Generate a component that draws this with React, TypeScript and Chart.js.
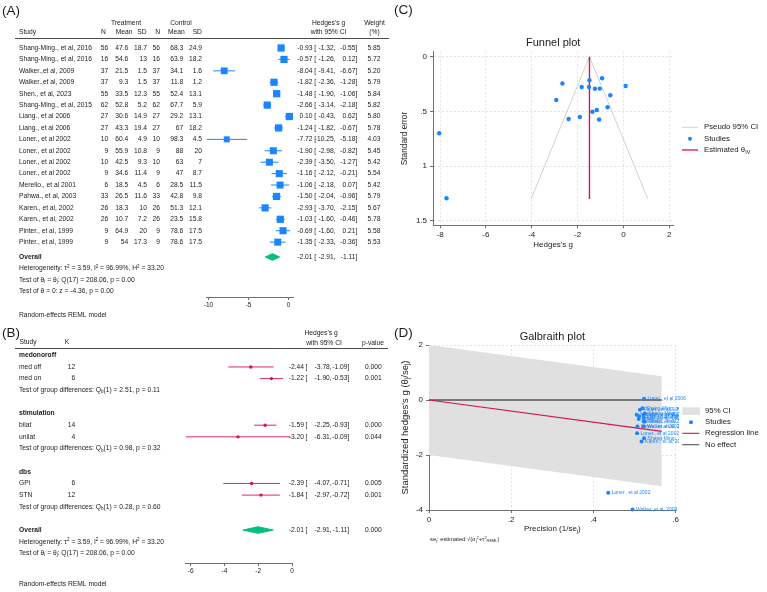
import React, { useEffect, useRef } from "react";
import { Chart, registerables } from "chart.js";

Chart.register(...registerables);

// ---------- styling ----------
const FONT = "'Liberation Sans', Arial, Helvetica, sans-serif";
const INK = "#1b1b1b";
const BLUE = "#1a85ff";
const RED = "#d41159";
const GREEN = "#00bf7f";
const AXIS = "#6f6f6f";
const GRID = "#e3e3e3";
const FUNNEL_GREY = "#d0d0d0";
const BAND = "#e0e0e0";
const NULL_LINE = "#555555";
const TABLE_FS = 6.7;

// ---------- individual studies ----------
const studyNames = [
  "Shang-Ming., et al, 2016",
  "Shang-Ming., et al, 2016",
  "Walker.,et al, 2009",
  "Walker.,et al, 2009",
  "Shen., et al, 2023",
  "Shang-Ming., et al, 2015",
  "Liang., et al 2006",
  "Liang., et al 2006",
  "Loner., et al 2002",
  "Loner., et al 2002",
  "Loner., et al 2002",
  "Loner., et al 2002",
  "Merello., et al 2001",
  "Pahwa., et al, 2003",
  "Karen., et al, 2002",
  "Karen., et al, 2002",
  "Pinter., et al, 1999",
  "Pinter., et al, 1999",
];
const treatN = [56, 16, 37, 37, 55, 62, 27, 27, 10, 9, 10, 9, 6, 33, 26, 26, 9, 9];
const treatMean = [47.6, 54.6, 21.5, 9.3, 33.5, 52.8, 30.6, 43.3, 60.4, 55.9, 42.5, 34.6, 18.5, 26.5, 18.3, 10.7, 64.9, 54];
const treatSD = [18.7, 13, 1.5, 1.5, 12.3, 5.2, 14.9, 19.4, 4.9, 10.8, 9.3, 11.4, 4.5, 11.6, 10, 7.2, 20, 17.3];
const ctrlN = [56, 16, 37, 37, 55, 62, 27, 27, 10, 9, 10, 9, 6, 33, 26, 26, 9, 9];
const ctrlMean = [68.3, 63.9, 34.1, 11.8, 52.4, 67.7, 29.2, 67, 98.3, 88, 63, 47, 28.5, 42.8, 51.3, 23.5, 78.6, 78.6];
const ctrlSD = [24.9, 18.2, 1.6, 1.2, 13.1, 5.9, 13.1, 18.2, 4.5, 20, 7, 8.7, 11.5, 9.8, 12.1, 15.8, 17.5, 17.5];
const hedgesG = [-0.93, -0.57, -8.04, -1.82, -1.48, -2.66, 0.1, -1.24, -7.72, -1.9, -2.39, -1.16, -1.06, -1.5, -2.93, -1.03, -0.69, -1.35];
const ciLow = [-1.32, -1.26, -9.41, -2.36, -1.9, -3.14, -0.43, -1.82, -10.25, -2.98, -3.5, -2.12, -2.18, -2.04, -3.7, -1.6, -1.6, -2.33];
const ciHigh = [-0.55, 0.12, -6.67, -1.28, -1.06, -2.18, 0.62, -0.67, -5.18, -0.82, -1.27, -0.21, 0.07, -0.96, -2.15, -0.46, 0.21, -0.36];
const weights = [5.85, 5.72, 5.2, 5.79, 5.84, 5.82, 5.8, 5.78, 4.03, 5.45, 5.42, 5.54, 5.42, 5.79, 5.67, 5.78, 5.58, 5.53];

// pooled random-effects estimate
const overallEst = -2.01;
const overallLow = -2.91;
const overallHigh = -1.11;

// ---------- subgroup analysis ----------
const groupNames = ["medonoroff", "stimulation", "dbs"];
const groupQb = ["2.51", "0.98", "0.28"];
const groupQp = ["0.11", "0.32", "0.60"];
const subLabels = ["med off", "med on", "bilat", "unilat", "GPi", "STN"];
const subK = [12, 6, 14, 4, 6, 12];
const subEst = [-2.44, -1.22, -1.59, -3.2, -2.39, -1.84];
const subLow = [-3.78, -1.9, -2.25, -6.31, -4.07, -2.97];
const subHigh = [-1.09, -0.53, -0.93, -0.09, -0.71, -0.72];
const subP = ["0.000", "0.001", "0.000", "0.044", "0.005", "0.001"];

// ---------- funnel plot ----------
const funnelSE = [0.196, 0.352, 0.699, 0.276, 0.214, 0.245, 0.268, 0.293, 1.293, 0.551, 0.569, 0.487, 0.574, 0.276, 0.395, 0.291, 0.462, 0.503];
const funnelLimitX = [-4.03, -1.48, 1.07];
const funnelLimitSE = [1.3, 0, 1.3];
const thetaIV = -1.48;
const funnelMaxSE = 1.3;

// ---------- Galbraith plot ----------
const galbPrecision = [0.525, 0.519, 0.495, 0.522, 0.525, 0.523, 0.523, 0.522, 0.436, 0.507, 0.506, 0.511, 0.505, 0.522, 0.517, 0.522, 0.513, 0.51];
const galbZ = [-0.49, -0.3, -3.98, -0.95, -0.78, -1.39, 0.05, -0.65, -3.37, -0.96, -1.21, -0.59, -0.54, -0.78, -1.51, -0.54, -0.35, -0.69];
const galbLineX = [0, 0.566];
const galbUpper = [2, 0.86];
const galbLower = [-2, -3.14];
const galbRegression = [0, -1.14];
const galbNoEffect = [0, 0];

// ---------- layout (pixels) ----------
const A_W = 393, A_H = 322;
const A_ROW0 = 48, A_ROWH = 11.42, A_TOP = 40, A_BOTTOM = 297;
const A_OVERALL = 18.3;
const A_XMIN = -10.25, A_XMAX = 0.62, A_LEFT = 206.5, A_RIGHT = 293.5;

const B_W = 393, B_H = 270;
const B_ROW0 = 33.3, B_ROWH = 11.65, B_TOP = 26, B_BOTTOM = 241;
const B_XMIN = -6.31, B_XMAX = 0, B_LEFT = 185.5, B_RIGHT = 292;
const B_GROUP_ROW = [0, 5, 10];
const B_SUB_ROW = [1, 2, 6, 7, 11, 12];
const B_TEST_ROW = [3, 8, 13];
const B_OVERALL = 15;

const DIAMOND_HALF = 3.3;

type Seg = { t: string; sub?: boolean; sup?: boolean };

function setFont(ctx: CanvasRenderingContext2D, size: number, bold = false) {
  ctx.font = `${bold ? "bold " : ""}${size}px ${FONT}`;
}

function text(ctx: CanvasRenderingContext2D, s: string, x: number, y: number, size: number, align: CanvasTextAlign = "left", opts: { bold?: boolean; color?: string } = {}) {
  setFont(ctx, size, opts.bold);
  ctx.fillStyle = opts.color ?? INK;
  ctx.textAlign = align;
  ctx.textBaseline = "middle";
  ctx.fillText(s, x, y);
}

function rich(ctx: CanvasRenderingContext2D, segs: Seg[], x: number, y: number, size: number, align: "left" | "center" | "right" = "left", color = INK) {
  const small = size * 0.68;
  const widthOf = (s: Seg) => {
    setFont(ctx, s.sub || s.sup ? small : size);
    return ctx.measureText(s.t).width;
  };
  const total = segs.reduce((w, s) => w + widthOf(s), 0);
  let cx = align === "center" ? x - total / 2 : align === "right" ? x - total : x;
  ctx.fillStyle = color;
  ctx.textAlign = "left";
  ctx.textBaseline = "middle";
  for (const s of segs) {
    const w = widthOf(s);
    const dy = s.sub ? size * 0.28 : s.sup ? -size * 0.32 : 0;
    ctx.fillText(s.t, cx, y + dy);
    cx += w;
  }
}

function richRotated(ctx: CanvasRenderingContext2D, segs: Seg[], x: number, y: number, size: number) {
  ctx.save();
  ctx.translate(x, y);
  ctx.rotate(-Math.PI / 2);
  rich(ctx, segs, 0, 0, size, "center");
  ctx.restore();
}

const heteroSegs: Seg[] = [
  { t: "Heterogeneity: τ" }, { t: "2", sup: true }, { t: " = 3.59, I" }, { t: "2", sup: true },
  { t: " = 96.99%, H" }, { t: "2", sup: true }, { t: " = 33.20" },
];
const homogSegs: Seg[] = [
  { t: "Test of θ" }, { t: "i", sub: true }, { t: " = θ" }, { t: "j", sub: true }, { t: ": Q(17) = 208.06, p = 0.00" },
];

const stripZero = (v: number) => String(Math.round(v * 100) / 100).replace(/^(-?)0\./, "$1.");

function xAxis(min: number, max: number, ticks: number[], height: number, size: number, grid: boolean) {
  return {
    type: "linear",
    position: "bottom",
    min,
    max,
    afterBuildTicks: (s: any) => {
      s.ticks = ticks.map((v) => ({ value: v }));
    },
    afterFit: (s: any) => {
      s.height = height;
    },
    ticks: { autoSkip: false, maxRotation: 0, padding: 1.5, color: INK, font: { family: FONT, size }, callback: (v: number) => stripZero(v) },
    grid: { display: true, drawOnChartArea: grid, drawTicks: true, tickLength: 3, color: GRID, tickColor: AXIS, lineWidth: 1, tickBorderDash: [] },
    border: { display: true, color: AXIS, width: 1, dash: grid ? [2, 2] : [] },
  };
}

function yAxis(min: number, max: number, ticks: number[], width: number, size: number, reverse: boolean) {
  return {
    type: "linear",
    position: "left",
    min,
    max,
    reverse,
    afterBuildTicks: (s: any) => {
      s.ticks = ticks.map((v) => ({ value: v }));
    },
    afterFit: (s: any) => {
      s.width = width;
    },
    ticks: { autoSkip: false, padding: 3, color: INK, font: { family: FONT, size }, callback: (v: number) => stripZero(v) },
    grid: { display: true, drawOnChartArea: true, drawTicks: true, tickLength: 3, color: GRID, tickColor: AXIS, lineWidth: 1, tickBorderDash: [] },
    border: { display: true, color: AXIS, width: 1, dash: [2, 2] },
  };
}

const baseOptions = {
  responsive: false,
  animation: false as const,
  events: [] as any[],
  plugins: { legend: { display: false }, tooltip: { enabled: false }, title: { display: false } },
};

// ---------- panel A: forest plot of studies ----------
const forestATable = {
  id: "forestATable",
  afterDraw(chart: any) {
    const ctx: CanvasRenderingContext2D = chart.ctx;
    const rowY = (r: number) => chart.scales.y.getPixelForValue(r);
    const fs = TABLE_FS;
    ctx.save();
    text(ctx, "(A)", 2, 11, 13.5);
    text(ctx, "Treatment", 126, 22.7, fs, "center");
    text(ctx, "Control", 181, 22.7, fs, "center");
    const hy = 32.3;
    text(ctx, "Study", 19, hy, fs);
    const heads: [string, number][] = [["N", 103.5], ["Mean", 124], ["SD", 142], ["N", 157.7], ["Mean", 176.3], ["SD", 197.3]];
    heads.forEach(([s, x]) => text(ctx, s, x, hy, fs, "center"));
    text(ctx, "Hedges's g", 328.5, 22.7, fs, "center");
    text(ctx, "with 95% CI", 328.5, hy, fs, "center");
    text(ctx, "Weight", 374.5, 22.7, fs, "center");
    text(ctx, "(%)", 374.5, hy, fs, "center");
    ctx.strokeStyle = "#4a4a4a";
    ctx.lineWidth = 1;
    ctx.beginPath();
    ctx.moveTo(15, 38.5);
    ctx.lineTo(389, 38.5);
    ctx.stroke();

    const ciText = (y: number, est: number, lo: number, hi: number) => {
      text(ctx, est.toFixed(2), 312.5, y, fs, "right");
      text(ctx, "[", 314.3, y, fs);
      text(ctx, lo.toFixed(2) + ",", 335.5, y, fs, "right");
      text(ctx, hi.toFixed(2) + "]", 357.3, y, fs, "right");
    };
    studyNames.forEach((name, i) => {
      const y = rowY(i);
      text(ctx, name, 19, y, fs);
      text(ctx, String(treatN[i]), 108.3, y, fs, "right");
      text(ctx, String(treatMean[i]), 128.3, y, fs, "right");
      text(ctx, String(treatSD[i]), 147, y, fs, "right");
      text(ctx, String(ctrlN[i]), 160, y, fs, "right");
      text(ctx, String(ctrlMean[i]), 183.3, y, fs, "right");
      text(ctx, String(ctrlSD[i]), 202, y, fs, "right");
      ciText(y, hedgesG[i], ciLow[i], ciHigh[i]);
      text(ctx, weights[i].toFixed(2), 380.5, y, fs, "right");
    });
    const yo = rowY(A_OVERALL);
    text(ctx, "Overall", 19, yo, fs, "left", { bold: true });
    ciText(yo, overallEst, overallLow, overallHigh);
    rich(ctx, heteroSegs, 19, rowY(A_OVERALL + 1), fs);
    rich(ctx, homogSegs, 19, rowY(A_OVERALL + 2), fs);
    text(ctx, "Test of θ = 0: z = -4.36, p = 0.00", 19, rowY(A_OVERALL + 3), fs);
    text(ctx, "Random-effects REML model", 19, 315, fs);
    ctx.restore();
  },
};

function forestAConfig(): any {
  const dh = DIAMOND_HALF / A_ROWH;
  const ciSets = hedgesG.map((_, i) => ({
    data: [{ x: ciLow[i], y: i }, { x: ciHigh[i], y: i }],
    borderColor: BLUE,
    borderWidth: 1,
    pointRadius: 0,
    fill: false,
    order: 2,
  }));
  return {
    type: "line",
    data: {
      datasets: [
        {
          data: hedgesG.map((g, i) => ({ x: g, y: i })),
          showLine: false,
          pointStyle: "rect",
          pointRadius: weights.map((w) => 2.12 * Math.sqrt(w)),
          pointBackgroundColor: BLUE,
          pointBorderWidth: 0,
          clip: false,
          order: 0,
        },
        {
          data: [
            { x: overallLow, y: A_OVERALL },
            { x: overallEst, y: A_OVERALL - dh },
            { x: overallHigh, y: A_OVERALL },
            { x: overallEst, y: A_OVERALL + dh },
            { x: overallLow, y: A_OVERALL },
          ],
          borderColor: GREEN,
          backgroundColor: GREEN,
          borderWidth: 1,
          pointRadius: 0,
          fill: "shape",
          order: 1,
        },
        ...ciSets,
      ],
    },
    options: {
      ...baseOptions,
      layout: { padding: { left: A_LEFT, right: A_W - A_RIGHT, top: A_TOP, bottom: A_H - A_BOTTOM - 20 } },
      scales: {
        x: xAxis(A_XMIN, A_XMAX, [-10, -5, 0], 20, 6.5, false),
        y: { type: "linear", display: false, reverse: true, min: (A_TOP - A_ROW0) / A_ROWH, max: (A_BOTTOM - A_ROW0) / A_ROWH },
      },
    },
    plugins: [forestATable],
  };
}

// ---------- panel B: subgroup forest plot ----------
const forestBTable = {
  id: "forestBTable",
  afterDraw(chart: any) {
    const ctx: CanvasRenderingContext2D = chart.ctx;
    const rowY = (r: number) => chart.scales.y.getPixelForValue(r);
    const fs = TABLE_FS;
    ctx.save();
    text(ctx, "(B)", 2, 11, 13.5);
    text(ctx, "Study", 19.5, 20, fs);
    text(ctx, "K", 67, 20, fs, "center");
    text(ctx, "Hedges's g", 321, 10.7, fs, "center");
    text(ctx, "with 95% CI", 324, 21.3, fs, "center");
    text(ctx, "p-value", 373, 21.3, fs, "center");
    ctx.strokeStyle = "#4a4a4a";
    ctx.lineWidth = 1;
    ctx.beginPath();
    ctx.moveTo(15, 26.5);
    ctx.lineTo(388, 26.5);
    ctx.stroke();

    const ciText = (y: number, est: number, lo: number, hi: number, p: string) => {
      text(ctx, est.toFixed(2), 304, y, fs, "right");
      text(ctx, "[", 305.5, y, fs);
      text(ctx, lo.toFixed(2) + ",", 331.7, y, fs, "right");
      text(ctx, hi.toFixed(2) + "]", 349.3, y, fs, "right");
      text(ctx, p, 381.7, y, fs, "right");
    };
    groupNames.forEach((g, gi) => {
      text(ctx, g, 19, rowY(B_GROUP_ROW[gi]), fs, "left", { bold: true });
      rich(ctx, [{ t: "Test of group differences: Q" }, { t: "b", sub: true }, { t: `(1) = ${groupQb[gi]}, p = ${groupQp[gi]}` }], 19, rowY(B_TEST_ROW[gi]), fs);
    });
    subLabels.forEach((s, i) => {
      const y = rowY(B_SUB_ROW[i]);
      text(ctx, s, 19, y, fs);
      text(ctx, String(subK[i]), 75.3, y, fs, "right");
      ciText(y, subEst[i], subLow[i], subHigh[i], subP[i]);
    });
    const yo = rowY(B_OVERALL);
    text(ctx, "Overall", 19, yo, fs, "left", { bold: true });
    ciText(yo, overallEst, overallLow, overallHigh, "0.000");
    rich(ctx, heteroSegs, 19, rowY(B_OVERALL + 1), fs);
    rich(ctx, homogSegs, 19, rowY(B_OVERALL + 2), fs);
    text(ctx, "Random-effects REML model", 19, 262, fs);
    ctx.restore();
  },
};

function forestBConfig(): any {
  const dh = DIAMOND_HALF / B_ROWH;
  const ciSets = subEst.map((_, i) => ({
    data: [{ x: subLow[i], y: B_SUB_ROW[i] }, { x: subHigh[i], y: B_SUB_ROW[i] }],
    borderColor: RED,
    borderWidth: 0.9,
    pointRadius: 0,
    fill: false,
    order: 2,
  }));
  return {
    type: "line",
    data: {
      datasets: [
        {
          data: subEst.map((g, i) => ({ x: g, y: B_SUB_ROW[i] })),
          showLine: false,
          pointStyle: "circle",
          pointRadius: 1.7,
          pointBackgroundColor: RED,
          pointBorderWidth: 0,
          clip: false,
          order: 0,
        },
        {
          data: [
            { x: overallLow, y: B_OVERALL },
            { x: overallEst, y: B_OVERALL - dh },
            { x: overallHigh, y: B_OVERALL },
            { x: overallEst, y: B_OVERALL + dh },
            { x: overallLow, y: B_OVERALL },
          ],
          borderColor: GREEN,
          backgroundColor: GREEN,
          borderWidth: 1,
          pointRadius: 0,
          fill: "shape",
          order: 1,
        },
        ...ciSets,
      ],
    },
    options: {
      ...baseOptions,
      layout: { padding: { left: B_LEFT, right: B_W - B_RIGHT, top: B_TOP, bottom: B_H - B_BOTTOM - 20 } },
      scales: {
        x: xAxis(B_XMIN, B_XMAX, [-6, -4, -2, 0], 20, 6.5, false),
        y: { type: "linear", display: false, reverse: true, min: (B_TOP - B_ROW0) / B_ROWH, max: (B_BOTTOM - B_ROW0) / B_ROWH },
      },
    },
    plugins: [forestBTable],
  };
}

// ---------- panel C: funnel plot ----------
const funnelDecor = {
  id: "funnelDecor",
  afterDraw(chart: any) {
    const ctx: CanvasRenderingContext2D = chart.ctx;
    const ca = chart.chartArea;
    const cx = (ca.left + ca.right) / 2;
    ctx.save();
    text(ctx, "(C)", 1, 10, 13.5);
    text(ctx, "Funnel plot", cx, 43.3, 11, "center");
    richRotated(ctx, [{ t: "Standard error" }], 12, (ca.top + ca.bottom) / 2, 8.3);
    text(ctx, "Hedges's g", cx, 245, 8, "center");
    // legend
    const lx = 311, fs = 7.8;
    ctx.lineWidth = 1;
    ctx.strokeStyle = FUNNEL_GREY;
    ctx.beginPath();
    ctx.moveTo(289, 127.3);
    ctx.lineTo(305, 127.3);
    ctx.stroke();
    text(ctx, "Pseudo 95% CI", lx, 127.3, fs);
    ctx.fillStyle = BLUE;
    ctx.beginPath();
    ctx.arc(297, 138.7, 2, 0, Math.PI * 2);
    ctx.fill();
    text(ctx, "Studies", lx, 138.7, fs);
    ctx.strokeStyle = RED;
    ctx.lineWidth = 1.3;
    ctx.beginPath();
    ctx.moveTo(289, 150);
    ctx.lineTo(305, 150);
    ctx.stroke();
    rich(ctx, [{ t: "Estimated θ" }, { t: "IV", sub: true }], lx, 150, fs);
    ctx.restore();
  },
};

function funnelConfig(): any {
  return {
    type: "line",
    data: {
      datasets: [
        {
          data: hedgesG.map((g, i) => ({ x: g, y: funnelSE[i] })),
          showLine: false,
          pointRadius: 2.2,
          pointBackgroundColor: BLUE,
          pointBorderWidth: 0,
          clip: false,
          order: 0,
        },
        {
          data: [{ x: thetaIV, y: 0 }, { x: thetaIV, y: funnelMaxSE }],
          borderColor: RED,
          borderWidth: 1.4,
          pointRadius: 0,
          fill: false,
          order: 1,
        },
        {
          data: funnelLimitX.map((x, i) => ({ x, y: funnelLimitSE[i] })),
          borderColor: FUNNEL_GREY,
          borderWidth: 1,
          pointRadius: 0,
          fill: false,
          order: 2,
        },
      ],
    },
    options: {
      ...baseOptions,
      layout: { padding: { left: 0, right: 374 - 280.3, top: 51.7, bottom: 300 - 225.3 - 14 } },
      scales: {
        x: xAxis(-8.31, 2.18, [-8, -6, -4, -2, 0, 2], 14, 8, true),
        y: yAxis(-0.046, 1.54, [0, 0.5, 1, 1.5], 40, 8, true),
      },
    },
    plugins: [funnelDecor],
  };
}

// ---------- panel D: Galbraith plot ----------
const galbraithDecor = {
  id: "galbraithDecor",
  afterDatasetsDraw(chart: any) {
    const ctx: CanvasRenderingContext2D = chart.ctx;
    const xs = chart.scales.x;
    const ys = chart.scales.y;
    ctx.save();
    studyNames.forEach((name, i) => {
      const px = xs.getPixelForValue(galbPrecision[i]);
      const py = ys.getPixelForValue(galbZ[i]);
      text(ctx, name, px + 3.5, py, 5, "left", { color: BLUE });
    });
    ctx.restore();
  },
  afterDraw(chart: any) {
    const ctx: CanvasRenderingContext2D = chart.ctx;
    const ca = chart.chartArea;
    const cx = (ca.left + ca.right) / 2;
    ctx.save();
    text(ctx, "(D)", 1, 33, 13.5);
    text(ctx, "Galbraith plot", cx, 36.7, 11, "center");
    richRotated(ctx, [{ t: "Standardized hedges's g (θ" }, { t: "j", sub: true }, { t: "/se" }, { t: "j", sub: true }, { t: ")" }], 12, (ca.top + ca.bottom) / 2, 9.5);
    rich(ctx, [{ t: "Precision (1/se" }, { t: "j", sub: true }, { t: ")" }], cx, 229, 8, "center");
    rich(
      ctx,
      [
        { t: "se" }, { t: "j", sub: true }, { t: ": estimated √(σ" }, { t: "j", sub: true }, { t: "2", sup: true },
        { t: "+τ" }, { t: "2", sup: true }, { t: "REML", sub: true }, { t: ")" },
      ],
      37,
      239.3,
      5.8
    );
    // legend on a white card
    ctx.fillStyle = "#ffffff";
    ctx.fillRect(286, 103.5, 88, 48);
    const lx = 312, fs = 7.8;
    ctx.fillStyle = BAND;
    ctx.fillRect(289.3, 107.3, 17.7, 7.7);
    text(ctx, "95% CI", lx, 111, fs);
    ctx.fillStyle = BLUE;
    ctx.beginPath();
    ctx.arc(298, 122.3, 2, 0, Math.PI * 2);
    ctx.fill();
    text(ctx, "Studies", lx, 122.3, fs);
    ctx.lineWidth = 1.1;
    ctx.strokeStyle = RED;
    ctx.beginPath();
    ctx.moveTo(289.3, 133.3);
    ctx.lineTo(306.3, 133.3);
    ctx.stroke();
    text(ctx, "Regression line", lx, 133.3, fs);
    ctx.strokeStyle = NULL_LINE;
    ctx.beginPath();
    ctx.moveTo(289.3, 144.7);
    ctx.lineTo(306.3, 144.7);
    ctx.stroke();
    text(ctx, "No effect", lx, 144.7, fs);
    ctx.restore();
  },
};

function galbraithConfig(): any {
  const pts = (ys: number[]) => galbLineX.map((x, i) => ({ x, y: ys[i] }));
  return {
    type: "line",
    data: {
      datasets: [
        {
          data: galbPrecision.map((p, i) => ({ x: p, y: galbZ[i] })),
          showLine: false,
          pointRadius: 2,
          pointBackgroundColor: BLUE,
          pointBorderWidth: 0,
          clip: false,
          order: 0,
        },
        { data: pts(galbRegression), borderColor: RED, borderWidth: 1.1, pointRadius: 0, fill: false, order: 1 },
        { data: pts(galbNoEffect), borderColor: NULL_LINE, borderWidth: 1.3, pointRadius: 0, fill: false, order: 2 },
        { data: pts(galbUpper), borderColor: "rgba(0,0,0,0)", backgroundColor: BAND, borderWidth: 1, pointRadius: 0, fill: "+1", order: 5 },
        { data: pts(galbLower), borderColor: "rgba(0,0,0,0)", borderWidth: 1, pointRadius: 0, fill: false, order: 5 },
      ],
    },
    options: {
      ...baseOptions,
      layout: { padding: { left: 0, right: 374 - 282.7, top: 45, bottom: 292 - 210 - 14 } },
      scales: {
        x: xAxis(0, 0.6, [0, 0.2, 0.4, 0.6], 14, 8, true),
        y: yAxis(-4, 2, [-4, -2, 0, 2], 36, 8, false),
      },
    },
    plugins: [galbraithDecor],
  };
}

function ChartCanvas({ left, top, width, height, build }: { left: number; top: number; width: number; height: number; build: () => any }) {
  const ref = useRef<HTMLCanvasElement>(null);
  useEffect(() => {
    const chart = new Chart(ref.current as HTMLCanvasElement, build());
    return () => chart.destroy();
  }, [build]);
  return <canvas ref={ref} width={width} height={height} style={{ position: "absolute", left, top, width, height }} />;
}

export default function App() {
  return (
    <div style={{ position: "fixed", left: 0, top: 0, width: 767, height: 592, background: "#ffffff", overflow: "hidden" }}>
      <ChartCanvas left={0} top={0} width={A_W} height={A_H} build={forestAConfig} />
      <ChartCanvas left={0} top={322} width={B_W} height={B_H} build={forestBConfig} />
      <ChartCanvas left={393} top={0} width={374} height={300} build={funnelConfig} />
      <ChartCanvas left={393} top={300} width={374} height={292} build={galbraithConfig} />
    </div>
  );
}
